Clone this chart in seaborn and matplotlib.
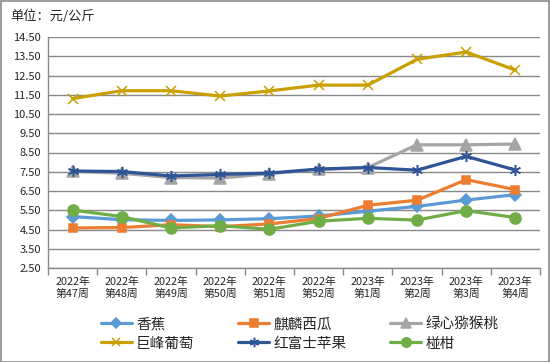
import pandas as pd
import seaborn as sns
import matplotlib.pyplot as plt
from matplotlib.patches import Rectangle

weeks = ['2022年\n第47周', '2022年\n第48周', '2022年\n第49周', '2022年\n第50周', '2022年\n第51周',
         '2022年\n第52周', '2023年\n第1周', '2023年\n第2周', '2023年\n第3周', '2023年\n第4周']

banana = [5.17, 5.01, 4.97, 5.00, 5.06, 5.20, 5.45, 5.70, 6.03, 6.31]
watermelon = [4.58, 4.60, 4.75, 4.65, 4.79, 5.07, 5.76, 6.02, 7.09, 6.57]
kiwi = [7.52, 7.42, 7.20, 7.17, 7.40, 7.62, 7.72, 8.90, 8.90, 8.94]
grape = [11.30, 11.71, 11.71, 11.43, 11.70, 12.00, 12.00, 13.34, 13.72, 12.78]
apple = [7.54, 7.51, 7.28, 7.36, 7.43, 7.64, 7.72, 7.58, 8.30, 7.59]
citrus = [5.51, 5.17, 4.58, 4.70, 4.51, 4.93, 5.08, 4.99, 5.48, 5.12]

yticks = [2.5, 3.5, 4.5, 5.5, 6.5, 7.5, 8.5, 9.5, 10.5, 11.5, 12.5, 13.5, 14.5]

series = [
    ('香蕉', banana, '#5B9BD5', 'D', 6),
    ('麒麟西瓜', watermelon, '#ED7D31', 's', 6),
    ('绿心猕猴桃', kiwi, '#A5A5A5', '^', 8),
    ('巨峰葡萄', grape, '#C9A000', 'x', 7),
    ('红富士苹果', apple, '#2F5597', (6, 2, 0), 8),
    ('椪柑', citrus, '#70AD47', 'o', 8),
]

sns.set_style('white')
plt.rcParams['font.family'] = ['Noto Sans CJK SC', 'DejaVu Sans']

fig = plt.figure(figsize=(5.5, 3.62), dpi=100)
ax = fig.add_axes([48 / 550, 1 - 268 / 362, 492 / 550, 231 / 362])

for name, vals, color, marker, ms in series:
    sns.lineplot(x=weeks, y=vals, ax=ax, color=color, marker=marker, markersize=ms,
                 markeredgecolor=color, markerfacecolor=color, markeredgewidth=1.1,
                 linewidth=2.3, label=name, sort=False)

ax.set_ylim(2.5, 14.5)
ax.set_xlim(-0.5, len(weeks) - 0.5)
ax.set_yticks(yticks)
ax.set_yticklabels([f'{v:.2f}' for v in yticks], fontsize=8)
ax.set_xticks(range(len(weeks)))
ax.set_xticklabels(weeks, fontsize=7.8, linespacing=1.3)
ax.set_xticks([i - 0.5 for i in range(len(weeks) + 1)], minor=True)
ax.tick_params(axis='x', which='major', length=0, pad=6)
ax.tick_params(axis='x', which='minor', length=5, color='#898989', width=1, bottom=True)
ax.tick_params(axis='y', length=0, pad=5)
ax.yaxis.grid(True, color='#898989', linewidth=1)
ax.set_axisbelow(True)
for side in ['top', 'right']:
    ax.spines[side].set_visible(False)
for side in ['left', 'bottom']:
    ax.spines[side].set_color('#898989')
    ax.spines[side].set_linewidth(1)

handles, labels = ax.get_legend_handles_labels()
ax.get_legend().remove()
order = [0, 3, 1, 4, 2, 5]
fig.legend([handles[i] for i in order], [labels[i] for i in order], ncol=3,
           loc='center left', bbox_to_anchor=(88 / 550, 1 - 334 / 362), frameon=False,
           fontsize=10.5, handlelength=2.1, handletextpad=0.3, columnspacing=3.0,
           labelspacing=0.35, markerscale=0.85)

fig.text(10 / 550, 1 - 16 / 362, '单位：元/公斤', fontsize=9.5, va='center', ha='left')
fig.patches.append(Rectangle((0.001, 0.001), 0.997, 0.996, transform=fig.transFigure,
                             fill=False, edgecolor='#898989', linewidth=1.2))

fig.savefig('out.png', dpi=100)
